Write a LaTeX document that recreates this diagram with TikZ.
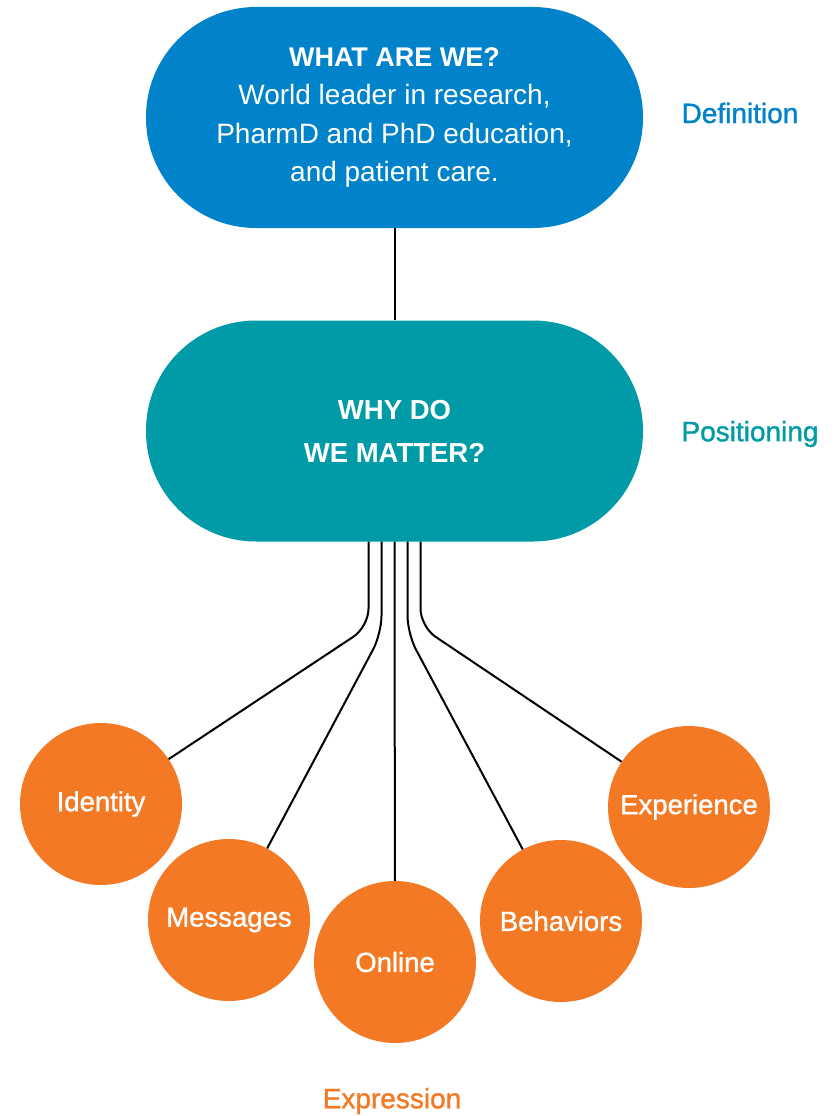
\documentclass[tikz,border=0pt]{standalone}
\usepackage{fontspec}
\setmainfont{Liberation Sans}
\newfontfamily\medfont{Liberation Sans}[FakeBold=1.2]
\usepackage{tikz}
\usetikzlibrary{positioning,calc}
\definecolor{defcol}{RGB}{0,131,202}
\definecolor{poscol}{RGB}{0,155,166}
\definecolor{expcol}{RGB}{244,121,36}

\begin{document}
\begin{tikzpicture}[x=1pt,y=-1pt,
  pill/.style={rectangle,rounded corners=110pt,minimum width=497pt,minimum height=221pt,
    inner sep=0pt,align=center,text=white},
  bubble/.style={circle,fill=expcol,minimum size=162pt,inner sep=0pt,text=white,
    font=\medfont\fontsize{27.5}{30}\selectfont},
  side/.style={font=\medfont\fontsize{28}{30}\selectfont},
  link/.style={line width=2pt,rounded corners=18pt}]
\useasboundingbox (0,0) rectangle (839,1116);

% pills
\node[pill,fill=defcol,font=\fontsize{28}{38.5}\selectfont] (what) at (394.5,117.5)
  {{\fontsize{27}{38.5}\selectfont\bfseries WHAT ARE WE?}\\
   World leader in research,\\ PharmD and PhD education,\\ and patient care.};
\node[pill,fill=poscol,font=\fontsize{27.5}{43}\selectfont\bfseries] (why) at (394.5,431)
  {WHY DO\\ WE MATTER?};

% side labels
\node[side,text=defcol] (deflab) at (740,113) {Definition};
\node[side,text=poscol] (poslab) at (750,434) {Positioning};
\node[side,text=expcol] (explab) at (392,1101) {Expression};

% expression row
\node[bubble] (identity) at (101,804) {Identity};
\node[bubble] (messages) at (229,920) {Messages};
\node[bubble] (online) at (395,962) {Online};
\node[bubble] (behaviors) at (561,921) {Behaviors};
\node[bubble] (experience) at (689,807) {Experience};

\draw[link] (what) -- (why);
\draw[link] ([xshift=-26pt]why.south) -- ++(0,85) -- (identity);
\draw[link] ([xshift=-13pt]why.south) -- ++(0,92) -- (messages);
\draw[link] (why.south) -- (online);
\draw[link] ([xshift=13pt]why.south) -- ++(0,92) -- (behaviors);
\draw[link] ([xshift=26pt]why.south) -- ++(0,85) -- (experience);
\end{tikzpicture}
\end{document}
